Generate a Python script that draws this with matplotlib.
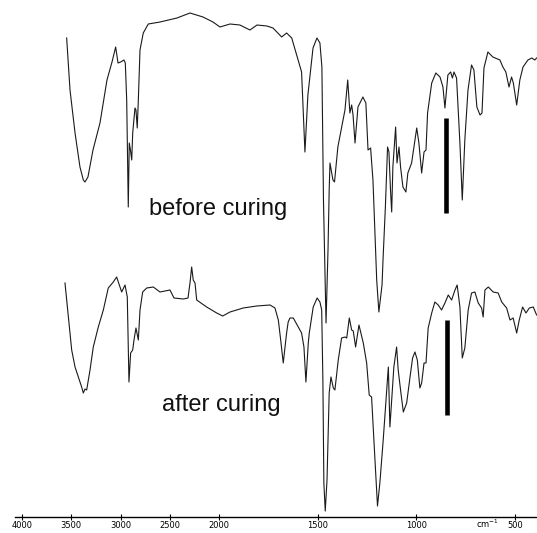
import numpy as np
import matplotlib
matplotlib.use("Agg")
import matplotlib.pyplot as plt

# ---- data (wavenumber cm^-1, transmittance a.u., curves stacked) ----
before_wn = [3547, 3513, 3462, 3412, 3378, 3361, 3331, 3280, 3209, 3138, 3087, 3050, 3026, 2999,
             2966, 2952, 2938, 2922, 2912, 2900, 2887, 2877, 2854, 2844, 2831, 2820, 2803, 2770,
             2719, 2600, 2428, 2296, 2164, 2063, 1996, 1945, 1895, 1844, 1808, 1758, 1727, 1683,
             1658, 1632, 1600, 1582, 1565, 1550, 1524, 1504, 1489, 1479, 1471, 1458, 1448, 1442,
             1438, 1423, 1415, 1398, 1362, 1348, 1337, 1328, 1321, 1311, 1296, 1271, 1256, 1245,
             1232, 1220, 1201, 1190, 1174, 1169, 1157, 1146, 1139, 1131, 1125, 1119, 1105, 1098,
             1088, 1080, 1068, 1053, 1043, 1024, 998, 987, 973, 961, 951, 943, 922, 901, 880, 865,
             855, 840, 826, 817, 809, 796, 779, 767, 754, 738, 720, 708, 693, 677, 667, 657, 637,
             612, 576, 561, 546, 530, 517, 508, 491, 475, 459, 434, 415, 399, 390]
before_t = [479, 427, 384, 350, 337, 335, 340, 367, 394, 437, 455, 470, 454, 455,
            457, 454, 417, 310, 374, 367, 357, 384, 409, 407, 389, 417, 467, 484,
            493, 495, 499, 504, 500, 495, 490, 493, 492, 487, 492, 491, 489, 480,
            484, 479, 457, 445, 365, 422, 469, 479, 474, 450, 317, 194, 267, 327,
            354, 337, 335, 370, 407, 437, 404, 412, 402, 374, 410, 420, 414, 367,
            369, 337, 237, 205, 232, 257, 310, 370, 365, 327, 305, 350, 390, 354,
            370, 350, 330, 325, 344, 354, 389, 374, 344, 365, 367, 404, 434, 444, 440, 430,
            409, 442, 445, 439, 445, 439, 374, 317, 377, 427, 452, 447, 410, 402, 404, 449, 465,
            460, 457, 450, 445, 430, 440, 434, 412, 437, 450, 457, 459, 457, 459]

after_wn = [3564, 3530, 3496, 3462, 3429, 3395, 3378, 3361, 3344, 3310, 3277, 3226, 3175, 3125,
            3074, 3040, 3006, 2989, 2955, 2932, 2915, 2898, 2877, 2864, 2844, 2820, 2803, 2776,
            2735, 2668, 2600, 2499, 2458, 2364, 2316, 2296, 2279, 2263, 2245, 2228, 2127, 2025,
            1982, 1945, 1878, 1810, 1742, 1717, 1700, 1688, 1675, 1666, 1658, 1650, 1641, 1624,
            1599, 1582, 1570, 1560, 1548, 1543, 1523, 1503, 1489, 1480, 1474, 1469, 1462, 1453,
            1447, 1442, 1433, 1421, 1413, 1396, 1379, 1362, 1353, 1340, 1328, 1320, 1308, 1291,
            1269, 1252, 1239, 1227, 1219, 1207, 1197, 1185, 1168, 1154, 1142, 1134, 1125, 1114,
            1100, 1092, 1080, 1066, 1049, 1032, 1019, 1007, 995, 982, 973, 961, 951, 940, 922,
            906, 889, 872, 855, 838, 821, 804, 793, 779, 767, 754, 737, 720, 703, 686, 669, 661,
            652, 635, 610, 585, 567, 542, 525, 509, 491, 478, 461, 444, 427, 407, 390]
after_t = [234, 200, 167, 150, 140, 130, 124, 128, 127, 147, 170, 190, 207, 229,
           235, 240, 230, 225, 232, 220, 135, 164, 167, 177, 189, 177, 207, 225,
           229, 230, 225, 227, 219, 218, 219, 234, 250, 237, 234, 217, 210, 204,
           201, 205, 209, 211, 212, 209, 197, 177, 154, 170, 184, 195, 199, 199,
           190, 184, 170, 135, 174, 184, 210, 219, 215, 207, 137, 34, 6, 37,
           87, 124, 140, 129, 127, 157, 179, 180, 179, 199, 187, 186, 170, 192,
           174, 154, 122, 120, 90, 47, 11, 34, 77, 117, 150, 90, 117, 150,
           170, 147, 127, 105, 114, 140, 159, 165, 157, 129, 134, 154, 154, 189, 204,
           215, 212, 207, 214, 222, 217, 227, 232, 210, 159, 169, 207, 224, 225, 214, 209, 200,
           227, 230, 225, 224, 215, 209, 197, 199, 184, 197, 210, 204, 209, 210, 202]

# marker bars (wavenumber, lower T, upper T)
bar_wn = [851, 846]
bar_lo = [304, 102]
bar_hi = [399, 197]

labels_text = ["before curing", "after curing"]
label_wn = [2012, 1987]
label_t = [308, 112]

tick_vals = [4000, 3500, 3000, 2500, 2000, 1500, 1000, 500]
tick_labels = ["4000", "3500", "3000", "2500", "2000", "1500", "1000", "500"]
unit_label = "cm$^{-1}$"
unit_wn = 640


def fwd(x):
    x = np.asarray(x, dtype=float)
    return np.where(x >= 2000, x, 2 * x - 2000)


def inv(u):
    u = np.asarray(u, dtype=float)
    return np.where(u >= 2000, u, (u + 2000) / 2)


fig = plt.figure(figsize=(5.37, 5.33), dpi=100)
ax = fig.add_axes([15 / 537, 16 / 533, 522 / 537, 517 / 533])
ax.set_xscale('function', functions=(fwd, inv))
ax.set_xlim(4071, 388)
ax.set_ylim(0, 517)

ax.plot(before_wn, before_t, color='#1a1a1a', lw=0.8)
ax.plot(after_wn, after_t, color='#1a1a1a', lw=0.8)
ax.vlines(bar_wn, bar_lo, bar_hi, colors='black', lw=3.3)

for s, xw, yt in zip(labels_text, label_wn, label_t):
    ax.text(xw, yt, s, ha='center', va='center', fontsize=17,
            family='Liberation Sans', color='#111111')

for sp in ['left', 'right', 'top']:
    ax.spines[sp].set_visible(False)
ax.spines['bottom'].set_linewidth(1.0)
ax.set_yticks([])
ax.set_xticks(tick_vals)
ax.set_xticklabels(tick_labels)
ax.xaxis.set_minor_locator(matplotlib.ticker.NullLocator())
ax.tick_params(axis='x', direction='inout', length=4, width=0.8, pad=1,
               labelsize=6, colors='black')
ax.text(unit_wn, -6.5, unit_label, ha='center', va='center', fontsize=6,
        transform=ax.transData, clip_on=False)

fig.savefig('out.png', dpi=100)
